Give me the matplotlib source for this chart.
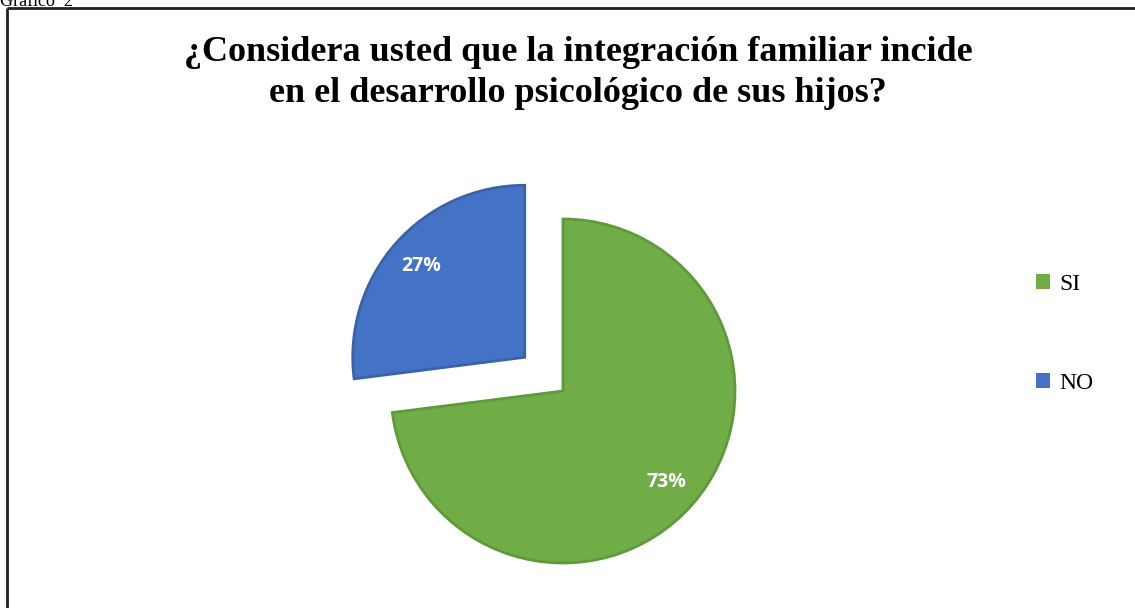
import matplotlib.pyplot as plt
from matplotlib.patches import Patch

labels = ["SI", "NO"]
values = [73, 27]
colors = ["#70AD47", "#4472C4"]
edges = ["#5E9A3A", "#3A62A8"]
title = "¿Considera usted que la integración familiar incide\nen el desarrollo psicológico de sus hijos?"

W, H = 1135, 608
fig = plt.figure(figsize=(W / 100, H / 100), dpi=100)
ax = fig.add_axes([0, 0, 1, 1])
ax.set_xlim(0, W)
ax.set_ylim(0, H)
ax.axis("off")

# chart frame (right and bottom sides fall outside the picture)
ax.plot([7, W + 5], [H - 8, H - 8], color="#222222", lw=2, solid_capstyle="butt")
ax.plot([7, 7], [H - 8, -5], color="#222222", lw=2, solid_capstyle="butt")

fig.text(0.0, 1 - 6 / H, "Gráfico  2", family="Liberation Serif", fontsize=13,
         ha="left", va="baseline")

fig.text(578 / W, 1 - 36 / H, title, family="Liberation Serif", fontweight="bold",
         fontsize=26, ha="center", va="top", linespacing=1.3)

wedges, texts, autotexts = ax.pie(
    values, colors=colors, startangle=90, counterclock=False,
    explode=[0, 51], center=(563, H - 391), radius=172,
    autopct="%1.0f%%", pctdistance=0.8,
    wedgeprops=dict(linewidth=2),
    textprops=dict(color="white", fontweight="bold", family="Open Sans", fontsize=14),
)
for w, e in zip(wedges, edges):
    w.set_edgecolor(e)
ax.set_xlim(0, W)
ax.set_ylim(0, H)
ax.set_aspect("auto")

handles = [Patch(facecolor=c, edgecolor="none") for c in colors]
fig.legend(handles, labels, loc="upper left", bbox_to_anchor=(1024 / W, 1 - 262 / H),
           frameon=False, prop=dict(family="Liberation Serif", size=17),
           handlelength=0.6, handleheight=0.6, handletextpad=0.4,
           labelspacing=3.3, borderpad=0)

fig.savefig("out.png", dpi=100)
